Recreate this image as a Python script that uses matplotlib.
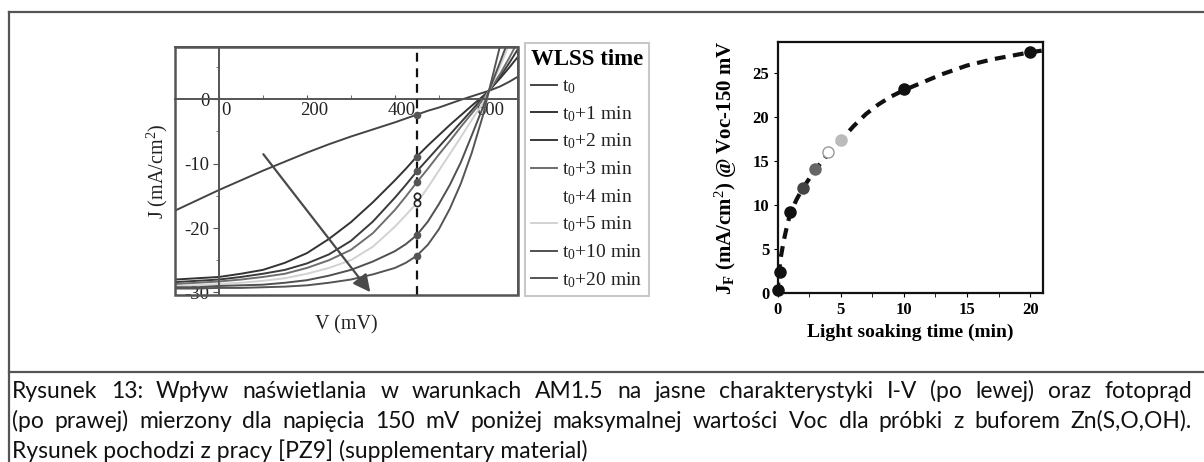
import matplotlib.pyplot as plt
import numpy as np
from matplotlib.lines import Line2D
from matplotlib.patches import Rectangle
from matplotlib import transforms

plt.rcParams['font.family'] = ['Liberation Serif', 'DejaVu Serif']
plt.rcParams['mathtext.fontset'] = 'custom'
plt.rcParams['mathtext.rm'] = 'Liberation Serif'
plt.rcParams['mathtext.it'] = 'Liberation Serif:italic'
plt.rcParams['mathtext.bf'] = 'Liberation Serif:bold'
plt.rcParams['axes.unicode_minus'] = False

# charakterystyki J-V (V w mV, J w mA/cm2)
napiecie = [-100, -50, 0, 50, 100, 150, 200, 250, 300, 350, 400, 425, 450,
            475, 500, 525, 550, 575, 600, 614, 640, 660, 680]
j_t0 = [-17.3, -15.7, -14.1, -12.6, -11.1, -9.7, -8.3, -7.0, -5.8, -4.7, -3.6, -3.0,
        -2.4, -1.8, -1.3, -0.7, -0.1, 0.45, 1.0, 1.3, 2.0, 2.7, 3.5]
j_t1 = [-28.0, -27.8, -27.6, -27.1, -26.5, -25.4, -23.9, -21.7, -19.1, -16.0, -12.6, -10.8,
        -8.9, -7.2, -5.6, -4.0, -2.5, -1.0, 0.45, 1.3, 3.3, 4.9, 6.6]
j_t2 = [-28.4, -28.2, -28.0, -27.6, -27.1, -26.5, -25.5, -24.1, -22.0, -19.0, -15.3, -13.3,
        -11.2, -9.3, -7.4, -5.5, -3.6, -1.7, 0.25, 1.3, 3.6, 5.6, 7.8]
j_t3 = [-28.7, -28.5, -28.3, -28.0, -27.6, -27.1, -26.2, -25.0, -23.4, -20.8, -17.2, -15.1,
        -12.9, -10.8, -8.6, -6.5, -4.3, -2.2, -0.1, 1.3, 4.0, 6.4, 9.0]
j_t4 = [-28.9, -28.7, -28.5, -28.3, -28.0, -27.5, -26.7, -25.6, -24.0, -21.5, -18.5, -16.9,
        -15.1, -12.9, -10.6, -8.1, -5.5, -2.8, -0.3, 1.3, 4.6, 7.5, 10.5]
j_t5 = [-29.0, -28.9, -28.7, -28.5, -28.2, -27.8, -27.1, -26.2, -25.0, -22.9, -19.8, -18.0,
        -16.1, -13.7, -11.1, -8.5, -5.9, -3.2, -0.6, 1.3, 5.2, 8.6, 12.0]
j_t10 = [-29.2, -29.2, -29.0, -28.9, -28.8, -28.5, -28.1, -27.4, -26.5, -25.2, -23.6, -22.5,
         -21.1, -19.0, -16.3, -13.3, -9.8, -5.6, -1.3, 1.3, 5.9, 9.5, 13.0]
j_t20 = [-29.4, -29.4, -29.3, -29.3, -29.2, -29.1, -28.9, -28.5, -28.0, -27.2, -26.2, -25.4,
         -24.3, -22.6, -20.2, -17.0, -13.1, -8.3, -2.6, 1.3, 8.5, 13.0, 17.0]
krzywe = [j_t0, j_t1, j_t2, j_t3, j_t4, j_t5, j_t10, j_t20]
etykiety = ['t$_{\\rm 0}$', 't$_{\\rm 0}$+1 min', 't$_{\\rm 0}$+2 min', 't$_{\\rm 0}$+3 min',
            't$_{\\rm 0}$+4 min', 't$_{\\rm 0}$+5 min', 't$_{\\rm 0}$+10 min', 't$_{\\rm 0}$+20 min']
kolory = ['#444444', '#333333', '#3a3a3a', '#6e6e6e', '#ffffff', '#d2d2d2', '#505050', '#555555']
v_pomiar = 450   # Voc - 150 mV

# fotoprad w funkcji czasu naswietlania
czas = [0, 0.2, 1, 2, 3, 4, 5, 10, 20]
jf = [0.4, 2.4, 9.2, 11.9, 14.1, 16.0, 17.4, 23.1, 27.3]
kolory_pkt = ['#111111', '#111111', '#111111', '#444444', '#666666', '#ffffff', '#bbbbbb',
              '#111111', '#111111']
czas_fit = [0, 0.1, 0.25, 0.5, 0.75, 1, 1.5, 2, 3, 4, 5, 6, 7, 8, 9, 10, 11.5, 13, 15, 17,
            18.5, 20, 21]
jf_fit = [0, 2.0, 4.0, 6.0, 7.6, 9.0, 10.6, 11.9, 14.0, 15.8, 17.3, 18.9, 20.3, 21.4, 22.3,
          23.0, 23.9, 24.8, 25.8, 26.5, 26.9, 27.3, 27.5]

podpis = [
    'Rysunek 13: Wpływ naświetlania w warunkach AM1.5 na jasne charakterystyki I-V (po lewej) oraz fotoprąd',
    '(po prawej) mierzony dla napięcia 150 mV poniżej maksymalnej wartości Voc dla próbki z buforem Zn(S,O,OH).',
    'Rysunek pochodzi z pracy [PZ9] (supplementary material)',
]

W, H = 1204, 462
fig = plt.figure(figsize=(W / 100, H / 100), dpi=100)


def px(x, y):
    return x / W, 1 - y / H


# --- lewy wykres ---
szary = '#555555'
ax1 = fig.add_axes([175 / W, 1 - 295 / H, 343 / W, 248 / H])
ax1.set_xlim(-100, 680)
ax1.set_ylim(-30.4, 8.1)

linie = []
for j, kol, et in zip(krzywe, kolory, etykiety):
    z = 1 if kol == '#ffffff' else 2
    l, = ax1.plot(napiecie, j, color=kol, lw=1.4, label=et, zorder=z)
    linie.append(l)

ax1.axvline(v_pomiar, color='#111111', lw=1.6, dashes=(4, 3), zorder=3)

# punkty na linii pomiaru
idx = napiecie.index(v_pomiar)
for j, kol in zip(krzywe, kolory):
    if kol in ('#ffffff', '#d2d2d2'):
        ax1.plot(v_pomiar, j[idx], 'o', ms=4.5, mfc='white', mec='#222222', mew=1.2, zorder=4)
    else:
        ax1.plot(v_pomiar, j[idx], 'o', ms=4.5, color=szary, zorder=4)

ax1.annotate('', xy=(348, -30.3), xytext=(97, -8.2),
             arrowprops=dict(arrowstyle='-|>', color='#4a4a4a', lw=1.6, mutation_scale=26))

for s in ['left', 'bottom']:
    ax1.spines[s].set_position(('data', 0))
for s in ax1.spines.values():
    s.set_color(szary)
    s.set_linewidth(1.4)
ax1.add_patch(Rectangle((0, 0), 1, 1, transform=ax1.transAxes, fill=False,
                        edgecolor=szary, lw=1.8, clip_on=False, zorder=5))

ax1.set_xticks([0, 200, 400, 600])
ax1.set_xticks([100, 300, 500], minor=True)
ax1.set_yticks([-30, -20, -10, 0])
ax1.set_yticks([-25, -15, -5, 5], minor=True)
ax1.tick_params(axis='both', which='both', colors=szary, labelcolor='#222222', labelsize=13.5)
ax1.tick_params(axis='x', which='both', direction='in', length=3, pad=2)
ax1.tick_params(axis='y', which='major', direction='out', length=4, pad=3)
ax1.tick_params(axis='y', which='minor', direction='out', length=2)
for lab in ax1.get_xticklabels():
    lab.set_transform(lab.get_transform() + transforms.ScaledTranslation(7 / 100, 0, fig.dpi_scale_trans))

fig.text(*px(346, 325), 'V (mV)', ha='center', va='center', fontsize=14.5, color='#222222')
fig.text(*px(157, 171), 'J (mA/cm$^{\\rm 2}$)', ha='center', va='center', rotation=90,
         fontsize=14.5, color='#222222')

leg = ax1.legend(handles=linie, labels=etykiety, title='WLSS time', loc='upper left',
                 bbox_to_anchor=px(525, 43), bbox_transform=fig.transFigure,
                 borderaxespad=0, fancybox=False, edgecolor='#bbbbbb', fontsize=14,
                 title_fontproperties={'weight': 'bold', 'size': 16.5}, alignment='left',
                 handlelength=1.35, handletextpad=0.25, labelspacing=0.41, borderpad=0.3)
leg.get_frame().set_linewidth(1.5)
for t in leg.get_texts():
    t.set_color('#222222')

# --- prawy wykres ---
ax2 = fig.add_axes([777.5 / W, 1 - 293.3 / H, 265.2 / W, 251.6 / H])
ax2.plot(czas_fit, jf_fit, color='#111111', lw=3, dashes=(2.6, 1.8), zorder=2)
for t, j, kol in zip(czas, jf, kolory_pkt):
    ax2.plot(t, j, 'o', ms=8, mfc=kol, mec='#999999' if kol == '#ffffff' else kol,
             mew=1, zorder=3, clip_on=False)
ax2.set_xlim(0, 21)
ax2.set_ylim(0, 28.5)
ax2.set_xticks([0, 5, 10, 15, 20])
ax2.set_xticks([2.5, 7.5, 12.5, 17.5], minor=True)
ax2.set_yticks([0, 5, 10, 15, 20, 25])
for s in ax2.spines.values():
    s.set_color('#111111')
    s.set_linewidth(1.6)
ax2.tick_params(axis='both', which='both', direction='out', length=3, labelsize=12, pad=3)
for lab in ax2.get_xticklabels() + ax2.get_yticklabels():
    lab.set_fontweight('bold')
ax2.set_xlabel('Light soaking time (min)', fontsize=14, fontweight='bold', labelpad=4)
ax2.set_ylabel('J$_{\\mathbf{F}}$ (mA/cm$^{\\rm 2}$) @ Voc-150 mV', fontsize=15,
               fontweight='bold')
ax2.yaxis.set_label_coords((739 - 777.5) / 265.2, 0.5)

# --- ramki i podpis ---
for (x0, y0), (x1, y1) in [((9, 11.5), (1204, 11.5)), ((9, 11.5), (9, 462)),
                           ((9, 372), (1204, 372))]:
    a, b = px(x0, y0)
    c, d = px(x1, y1)
    fig.add_artist(Line2D([a, c], [b, d], color=szary, lw=1.6))

# podpis wyjustowany do prawej krawedzi (oprocz ostatniej linii)
r = fig.canvas.get_renderer()
czcionka = dict(fontsize=16.5, family=['Lato', 'DejaVu Sans'], color='#111111',
                ha='left', va='baseline')
for i, linia in enumerate(podpis):
    y = 1 - (398 + 30 * i) / H
    if i == len(podpis) - 1:
        fig.text(12 / W, y, linia, **czcionka)
        continue
    slowa = [fig.text(0, y, s, **czcionka) for s in linia.split(' ')]
    szer = [t.get_window_extent(r).width for t in slowa]
    odstep = (1180 - sum(szer)) / (len(slowa) - 1)
    x = 12
    for t, w in zip(slowa, szer):
        t.set_x(x / W)
        x += w + odstep

fig.savefig('out.png', dpi=100)
